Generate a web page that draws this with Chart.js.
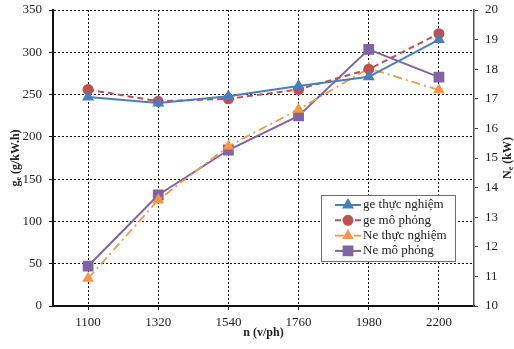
<!DOCTYPE html>
<html>
<head>
<meta charset="utf-8">
<script src="https://cdn.jsdelivr.net/npm/chart.js@4/dist/chart.umd.min.js"></script>
<style>
	html, body { margin: 0; padding: 0; background: #fff; }
	canvas { display: block; }
</style>
</head>
<body>
<canvas id="line_GeNeGraph" width="514" height="349"></canvas>
<script>
// 데이터
const categories = ['1100', '1320', '1540', '1760', '1980', '2200'];
const geThucNghiem = [247, 240, 248, 260, 271, 315];
const geMoPhong = [256, 242, 245, 256, 280, 322];
const neThucNghiem = [10.93, 13.58, 15.4, 16.64, 18.03, 17.3];
const neMoPhong = [11.35, 13.75, 15.27, 16.42, 18.67, 17.73];

const FONT = "'Liberation Serif', 'Times New Roman', serif";

/**
 * 축 제목 (아래첨자 e 때문에 직접 그림)
 */
const axisTitlePlugin = {
	id: 'axisTitles',
	afterDraw(chart) {
		const ctx = chart.ctx;
		const area = chart.chartArea;
		const midY = (area.top + area.bottom) / 2;

		// 세로 제목: 아래에서 위로
		const vertTitle = (x, main, sub, rest) => {
			ctx.save();
			ctx.translate(x, midY);
			ctx.rotate(-Math.PI / 2);
			ctx.fillStyle = '#222';
			ctx.textBaseline = 'middle';
			ctx.font = `bold 12px ${FONT}`;
			const w1 = ctx.measureText(main).width;
			const w3 = ctx.measureText(rest).width;
			ctx.font = `bold 8px ${FONT}`;
			const w2 = ctx.measureText(sub).width;
			let sx = -(w1 + w2 + w3) / 2;
			ctx.font = `bold 12px ${FONT}`;
			ctx.textAlign = 'left';
			ctx.fillText(main, sx, 0);
			ctx.font = `bold 8px ${FONT}`;
			ctx.fillText(sub, sx + w1, 3);
			ctx.font = `bold 12px ${FONT}`;
			ctx.fillText(rest, sx + w1 + w2, 0);
			ctx.restore();
		};
		vertTitle(16, 'g', 'e', ' (g/kW.h)');
		vertTitle(508, 'N', 'e', ' (kW)');

		// x축 제목
		ctx.save();
		ctx.fillStyle = '#222';
		ctx.font = `bold 12px ${FONT}`;
		ctx.textAlign = 'center';
		ctx.textBaseline = 'middle';
		ctx.fillText('n (v/ph)', (area.left + area.right) / 2, 333);
		ctx.restore();
	}
};

/**
 * 범례 박스 (선 + 마커)
 */
const boxLegendPlugin = {
	id: 'boxLegend',
	afterDraw(chart) {
		const ctx = chart.ctx;
		const box = { x: 321, y: 195, w: 134, h: 66 };
		ctx.save();
		ctx.fillStyle = '#fff';
		ctx.fillRect(box.x, box.y, box.w, box.h);
		ctx.strokeStyle = '#6d6d6d';
		ctx.lineWidth = 1;
		ctx.strokeRect(box.x + 0.5, box.y + 0.5, box.w, box.h);

		chart.data.datasets.forEach((ds, i) => {
			const y = box.y + 10 + i * 15.3;
			ctx.save();
			ctx.strokeStyle = ds.borderColor;
			ctx.lineWidth = ds.borderWidth;
			ctx.setLineDash(ds.borderDash || []);
			ctx.beginPath();
			ctx.moveTo(box.x + 14, y);
			ctx.lineTo(box.x + 40, y);
			ctx.stroke();
			ctx.setLineDash([]);
			ctx.fillStyle = ds.pointBackgroundColor;
			ctx.strokeStyle = ds.pointBorderColor;
			Chart.helpers.drawPoint(ctx, {
				pointStyle: ds.pointStyle,
				radius: ds.pointRadius,
				rotation: 0,
				borderWidth: 1
			}, box.x + 27, y);
			ctx.restore();

			ctx.fillStyle = '#222';
			ctx.font = `13px ${FONT}`;
			ctx.textAlign = 'left';
			ctx.textBaseline = 'middle';
			ctx.fillText(ds.label, box.x + 42, y);
		});
		ctx.restore();
	}
};

// 축 라벨 때문에 생기는 여백 제거
const noLabelPad = (s) => {
	s.paddingTop = 0;
	s.paddingBottom = 0;
	s.paddingLeft = 0;
	s.paddingRight = 0;
};

let config = {
	type: 'line',
	data: {
		labels: categories,
		datasets: [{
			label: 'ge thực nghiệm',
			data: geThucNghiem,
			yAxisID: 'y',
			borderColor: '#4a7ebb',
			borderWidth: 2,
			pointStyle: 'triangle',
			pointRadius: 5,
			pointBackgroundColor: '#4a7ebb',
			pointBorderColor: '#4a7ebb'
		}, {
			label: 'ge mô phỏng',
			data: geMoPhong,
			yAxisID: 'y',
			borderColor: '#c0504d',
			borderWidth: 2,
			borderDash: [6, 4],
			pointStyle: 'circle',
			pointRadius: 4.5,
			pointBackgroundColor: '#c0504d',
			pointBorderColor: '#c0504d'
		}, {
			label: 'Ne thực nghiệm',
			data: neThucNghiem,
			yAxisID: 'y1',
			borderColor: '#f79646',
			borderWidth: 1.75,
			borderDash: [9, 4, 2, 4],
			pointStyle: 'triangle',
			pointRadius: 5,
			pointBackgroundColor: '#f79646',
			pointBorderColor: '#f79646'
		}, {
			label: 'Ne mô phỏng',
			data: neMoPhong,
			yAxisID: 'y1',
			borderColor: '#8064a2',
			borderWidth: 2,
			pointStyle: 'rect',
			pointRadius: 6.2,
			pointBackgroundColor: '#8064a2',
			pointBorderColor: '#8064a2'
		}]
	},
	options: {
		responsive: false,
		maintainAspectRatio: false,
		devicePixelRatio: 1,
		animation: false,
		layout: {
			padding: { top: 10, left: 0, right: 0, bottom: 0 }
		},
		elements: {
			line: { tension: 0 }
		},
		plugins: {
			legend: { display: false },
			tooltip: { enabled: false }
		},
		scales: {
			x: {
				offset: true,
				afterFit: (s) => { noLabelPad(s); s.height = 43; },
				grid: {
					offset: false,
					color: '#111',
					lineWidth: 1,
					tickLength: 4,
					tickColor: '#111',
					tickBorderDash: []
				},
				border: { color: '#111', width: 2, dash: [2, 2] },
				ticks: {
					color: '#222',
					padding: 5,
					font: { family: FONT, size: 13 }
				}
			},
			y: {
				position: 'left',
				min: 0,
				max: 350,
				afterFit: (s) => { noLabelPad(s); s.width = 53; },
				ticks: {
					stepSize: 50,
					color: '#222',
					padding: 7,
					font: { family: FONT, size: 13 }
				},
				grid: {
					color: '#111',
					lineWidth: 1,
					tickLength: 4,
					tickColor: '#111',
					tickBorderDash: []
				},
				border: { color: '#111', width: 2, dash: [2, 2] }
			},
			y1: {
				position: 'right',
				min: 10,
				max: 20,
				afterFit: (s) => { noLabelPad(s); s.width = 40; },
				ticks: {
					stepSize: 1,
					color: '#222',
					padding: 7,
					font: { family: FONT, size: 13 }
				},
				grid: {
					drawOnChartArea: false,
					tickLength: 4,
					tickColor: '#444',
					tickBorderDash: []
				},
				border: { color: '#555', width: 1.5 }
			}
		}
	},
	plugins: [axisTitlePlugin, boxLegendPlugin]
};

let geNeChart = new Chart(document.getElementById('line_GeNeGraph'), config);
</script>
</body>
</html>
